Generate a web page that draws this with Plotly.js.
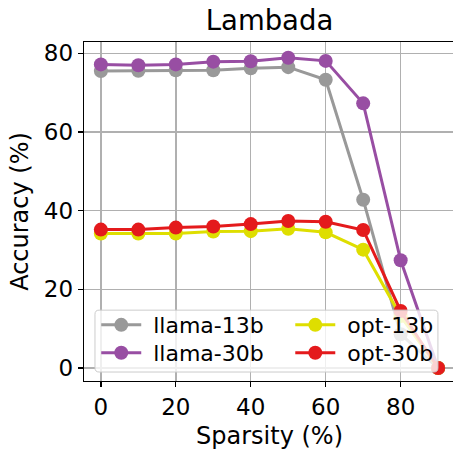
<!DOCTYPE html>
<html>
<head>
<meta charset="utf-8">
<script src="https://cdn.plot.ly/plotly-3.0.1.min.js"></script>
<style>
html,body{margin:0;padding:0;overflow:hidden;background:#fff;}
#chart{width:457px;height:453px;}
</style>
</head>
<body>
<div id="chart"></div>
<script>
const sparsity = [0, 10, 20, 30, 40, 50, 60, 70, 80, 90];
const llama13b = [75.5, 75.6, 75.7, 75.7, 76.2, 76.5, 73.3, 42.8, 8.6, 0.0];
const llama30b = [77.2, 77.0, 77.2, 77.9, 78.0, 78.9, 78.1, 67.3, 27.4, 0.0];
const opt13b   = [34.2, 34.2, 34.2, 34.7, 34.8, 35.4, 34.5, 30.1, 13.2, 0.0];
const opt30b   = [35.2, 35.2, 35.7, 36.0, 36.6, 37.4, 37.2, 35.1, 14.5, 0.0];
const seriesNames = ["llama-13b", "llama-30b", "opt-13b", "opt-30b"];
const seriesColors = ["#999999", "#984ea3", "#dede00", "#e41a1c"];
const xTicks = [0, 20, 40, 60, 80];
const yTicks = [0, 20, 40, 60, 80];

const font = "DejaVu Sans, sans-serif";
const legendIds = ["legend", "legend2", "legend3", "legend4"];
const allY = [llama13b, llama30b, opt13b, opt30b];
const traces = allY.map((ys, i) => ({
  x: sparsity, y: ys, name: "\u00a0" + seriesNames[i], type: "scatter", mode: "lines+markers",
  line: {color: seriesColors[i], width: 3},
  marker: {color: seriesColors[i], size: 14},
  legend: legendIds[i]
}));

// legend slot positions (paper coords): two columns, two rows
const colX = [0.033, 0.033, 0.556, 0.556];
const rowY = [0.165, 0.0826, 0.165, 0.0826];
function legendCfg(i) {
  return {
    x: colX[i], xanchor: "left", y: rowY[i], yanchor: "middle",
    bgcolor: "rgba(0,0,0,0)", borderwidth: 0, itemwidth: 40,
    font: {size: 22, family: font, color: "#000"}
  };
}

const bx0 = 0.0296, bx1 = 0.954, by0 = 0.0265, by1 = 0.209, rx = 0.011, ry = 0.012;
const boxPath = `M ${bx0+rx},${by0} L ${bx1-rx},${by0} Q ${bx1},${by0} ${bx1},${by0+ry} L ${bx1},${by1-ry} Q ${bx1},${by1} ${bx1-rx},${by1} L ${bx0+rx},${by1} Q ${bx0},${by1} ${bx0},${by1-ry} L ${bx0},${by0+ry} Q ${bx0},${by0} ${bx0+rx},${by0} Z`;

const layout = {
  width: 457, height: 453,
  margin: {l: 84, r: 2, t: 42, b: 72},
  paper_bgcolor: "#fff", plot_bgcolor: "#fff",
  font: {family: font, color: "#000"},
  title: {text: "Lambada", font: {size: 27.5, family: font, color: "#000"}, x: 0.5, xref: "paper", xanchor: "center", y: 0.955, yanchor: "middle"},
  xaxis: {
    range: [-4.5, 94.5], tickvals: xTicks, ticktext: xTicks.map(String),
    showgrid: true, gridcolor: "#b0b0b0", gridwidth: 1.4,
    showline: true, linecolor: "#000", linewidth: 1.3, mirror: true,
    ticks: "outside", ticklen: 5, tickwidth: 1.3, tickcolor: "#000",
    tickfont: {size: 23, family: font, color: "#000"}, zeroline: false,
    title: {text: "Sparsity (%)", font: {size: 24, family: font, color: "#000"}, standoff: 8}
  },
  yaxis: {
    range: [-3.3, 82.9], tickvals: yTicks, ticktext: yTicks.map(String),
    showgrid: true, gridcolor: "#b0b0b0", gridwidth: 1.4,
    showline: true, linecolor: "#000", linewidth: 1.3, mirror: true,
    ticks: "outside", ticklen: 5, tickwidth: 1.3, tickcolor: "#000",
    tickfont: {size: 23, family: font, color: "#000"}, zeroline: false,
    title: {text: "Accuracy (%)", font: {size: 24, family: font, color: "#000"}, standoff: 8}
  },
  showlegend: true,
  legend: legendCfg(0), legend2: legendCfg(1), legend3: legendCfg(2), legend4: legendCfg(3),
  shapes: [{
    type: "path", xref: "paper", yref: "paper", path: boxPath, layer: "above",
    fillcolor: "rgba(255,255,255,0.8)", line: {color: "#cccccc", width: 1}
  }]
};

Plotly.newPlot("chart", traces, layout, {displayModeBar: false, staticPlot: true});
</script>
</body>
</html>
